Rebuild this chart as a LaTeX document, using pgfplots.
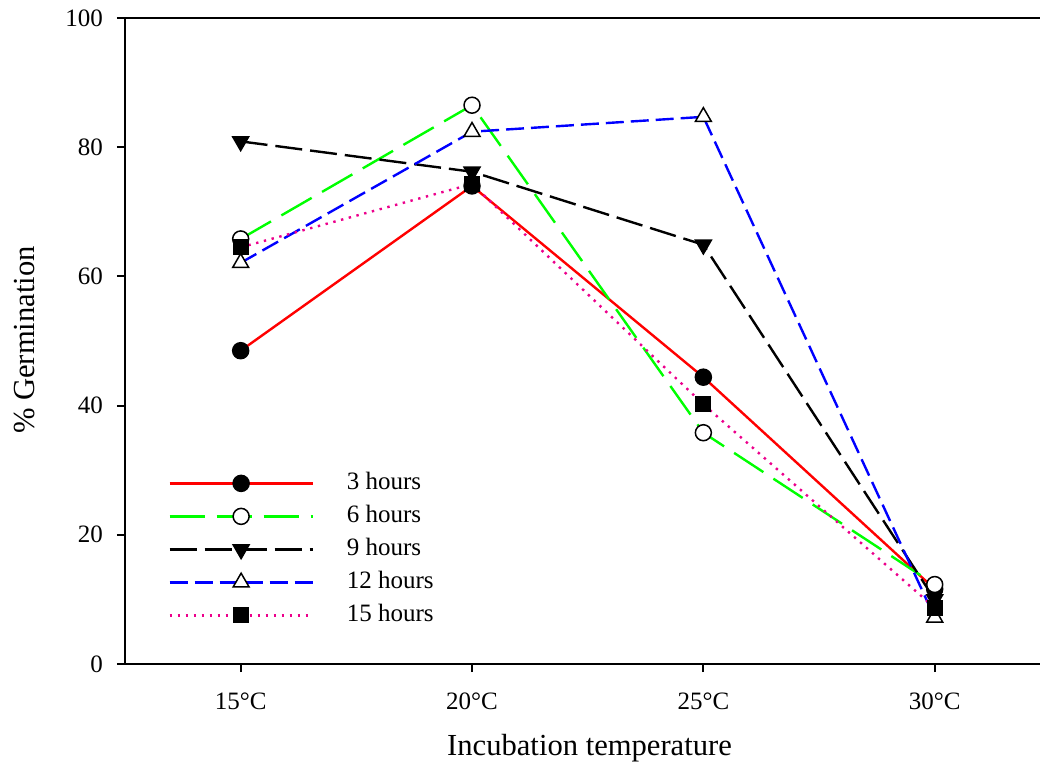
\documentclass[border=0pt]{standalone}
\usepackage{fontspec}
\setmainfont{Liberation Serif}
\usepackage{pgfplots}
\pgfplotsset{compat=1.18}
\begin{document}
\begin{tikzpicture}
\begin{axis}[
  name=ax,
  scale only axis,
  width=462.7pt, height=323pt,
  xmin=-0.5, xmax=3.5, ymin=0, ymax=100,
  xtick={0,1,2,3},
  xticklabels={15°C,20°C,25°C,30°C},
  ytick={0,20,40,60,80,100},
  xtick pos=bottom, ytick pos=left,
  tick align=outside,
  major tick length=4pt,
  axis line style={line width=1pt},
  every tick/.style={line width=1pt, black},
  /pgf/number format/assume math mode=true,
  tick label style={font=\fontsize{12.5}{15}\selectfont},
  xticklabel style={yshift=-7pt},
  yticklabel style={xshift=-3.5pt},
  label style={font=\fontsize{15.3}{18}\selectfont},
  xlabel={Incubation temperature},
  ylabel={\% Germination},
  xlabel style={at={(axis description cs:0.502,-0.1409)}, anchor=base},
  ylabel style={at={(axis description cs:-0.1081,0.5015)}, anchor=center},
  legend cell align=left,
  legend style={draw=none, fill=none, at={(axis description cs:0.0465,0.2988)}, anchor=north west,
    font=\fontsize{12.5}{15}\selectfont, row sep=4.5pt, column sep=16.5pt, inner sep=0pt,
    nodes={inner sep=0pt, text height=9pt, text depth=3pt}},
  legend image code/.code={\draw[#1, mark repeat=2, mark phase=2] plot coordinates {(0pt,0pt) (35.75pt,0pt) (71.5pt,0pt)};},
  every axis plot/.append style={line width=1.2pt},
]
\addplot[color=red, solid, mark=*, mark size=4pt, mark options={solid, fill=black, draw=black, line width=0.75pt}]
  coordinates {(0,48.5) (1,74.0) (2,44.4) (3,11.6)};
\addlegendentry{3 hours}
\addplot[color=green, dash pattern=on 17.5pt off 6pt, mark=*, mark size=4pt, mark options={solid, fill=white, draw=black, line width=0.75pt}]
  coordinates {(0,65.8) (1,86.5) (2,35.8) (3,12.3)};
\addlegendentry{6 hours}
\addplot[color=black, dash pattern=on 13.5pt off 4pt, mark=triangle*, mark size=4.6pt, mark options={solid, rotate=180, fill=black, draw=black, line width=0.75pt}]
  coordinates {(0,80.9) (1,76.2) (2,64.9) (3,10.0)};
\addlegendentry{9 hours}
\addplot[color=blue, dash pattern=on 9pt off 3.5pt, mark=triangle*, mark size=4.6pt, mark options={solid, fill=white, draw=black, line width=0.75pt}]
  coordinates {(0,62.1) (1,82.4) (2,84.7) (3,7.2)};
\addlegendentry{12 hours}
\addplot[color=magenta, dash pattern=on 1.2pt off 2.8pt, mark=square*, mark size=3.75pt, mark options={solid, fill=black, draw=black, line width=0.5pt}]
  coordinates {(0,64.5) (1,74.3) (2,40.2) (3,8.7)};
\addlegendentry{15 hours}
\end{axis}
\pgfresetboundingbox
\path ([xshift=-62.5pt,yshift=-57pt]ax.south west) rectangle ([xshift=457.5pt,yshift=9pt]ax.north west);
\end{tikzpicture}
\end{document}
